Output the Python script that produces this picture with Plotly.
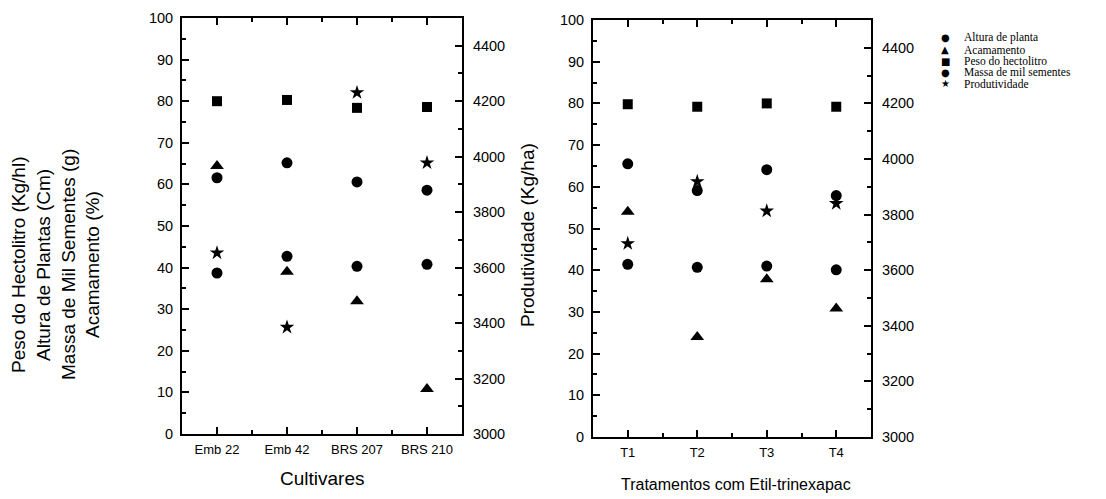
import plotly.graph_objects as go

# Categories of each panel
cultivares = ["Emb 22", "Emb 42", "BRS 207", "BRS 210"]
tratamentos = ["T1", "T2", "T3", "T4"]

# Left-axis variables (Peso do hectolitro, altura, massa de mil sementes, acamamento)
cult_altura = [61.6, 65.2, 60.6, 58.6]
cult_acamamento = [64.4, 39.0, 31.9, 10.8]
cult_peso_hl = [80.0, 80.3, 78.4, 78.6]
cult_massa = [38.7, 42.7, 40.3, 40.8]
# Right-axis variable (kg/ha)
cult_produtividade = [3653, 3385, 4231, 3978]

trat_altura = [65.5, 59.1, 64.1, 57.9]
trat_acamamento = [54.0, 24.0, 37.8, 30.8]
trat_peso_hl = [79.8, 79.2, 80.0, 79.2]
trat_massa = [41.4, 40.7, 41.0, 40.1]
trat_produtividade = [3696, 3919, 3813, 3840]

legend_labels = ["Altura de planta", "Acamamento", "Peso do hectolitro",
                 "Massa de mil sementes", "Produtividade"]
legend_glyphs = ["\u25CF", "\u25B2", "\u25A0", "\u25CF", "\u2605"]

W, H = 1106, 499
FONT = "Liberation Sans, Arial, sans-serif"


def px_x(p):
    return p / W


def px_y(p):
    return 1 - p / H


series = [
    ("circle", 11, cult_altura, trat_altura, False),
    ("triangle-up", 12, cult_acamamento, trat_acamamento, False),
    ("square", 10, cult_peso_hl, trat_peso_hl, False),
    ("circle", 11, cult_massa, trat_massa, False),
    ("star", 11, cult_produtividade, trat_produtividade, True),
]

fig = go.Figure()
for (symbol, size, left_vals, right_vals, on_kg), name in zip(series, legend_labels):
    marker = dict(symbol=symbol, size=size, color="black", line=dict(width=0))
    fig.add_trace(go.Scatter(
        x=list(range(len(cultivares))), y=left_vals, mode="markers", name=name,
        marker=marker, xaxis="x", yaxis="y2" if on_kg else "y",
    ))
    fig.add_trace(go.Scatter(
        x=list(range(len(tratamentos))), y=right_vals, mode="markers", name=name,
        marker=marker, xaxis="x2", yaxis="y4" if on_kg else "y3",
    ))

axis_common = dict(
    showline=True, linecolor="black", linewidth=2,
    ticks="inside", ticklen=7, tickwidth=2, tickcolor="black",
    showgrid=False, zeroline=False, automargin=False,
    tickfont=dict(family=FONT, size=14.5, color="black"),
)


def cat_axis(labels, domain, anchor):
    n = len(labels)
    return dict(
        axis_common, domain=domain, anchor=anchor, range=[-0.5, n - 0.5],
        tickmode="array", tickvals=list(range(n)), ticktext=labels,
        mirror="ticks", tickfont=dict(family=FONT, size=13, color="black"),
        ticklabelstandoff=2,
        minor=dict(tickmode="array", tickvals=[i + 0.5 for i in range(n - 1)],
                   ticks="inside", ticklen=4, tickwidth=2, tickcolor="black"),
    )


def pct_axis(domain, anchor):
    return dict(
        axis_common, domain=domain, anchor=anchor, range=[0, 100],
        tickmode="linear", tick0=0, dtick=10, ticklabelstandoff=4,
        minor=dict(dtick=5, ticks="inside", ticklen=4, tickwidth=2, tickcolor="black"),
    )


def kg_axis(overlay, anchor):
    return dict(
        axis_common, overlaying=overlay, anchor=anchor, side="right",
        range=[3000, 4500], tickmode="array",
        tickvals=[3000, 3200, 3400, 3600, 3800, 4000, 4200, 4400],
        ticklabelstandoff=6,
        minor=dict(dtick=100, ticks="inside", ticklen=4, tickwidth=2, tickcolor="black"),
    )


fig.update_layout(
    width=W, height=H,
    margin=dict(l=0, r=0, t=0, b=0, autoexpand=False),
    paper_bgcolor="white", plot_bgcolor="white",
    xaxis=cat_axis(cultivares, [px_x(182), px_x(462)], "y"),
    yaxis=pct_axis([px_y(434), px_y(18)], "x"),
    yaxis2=kg_axis("y", "x"),
    xaxis2=cat_axis(tratamentos, [px_x(593), px_x(871)], "y3"),
    yaxis3=pct_axis([px_y(437), px_y(20)], "x2"),
    yaxis4=kg_axis("y3", "x2"),
    showlegend=False,
)

# Key in the upper right: glyph + label per variable
for i, (glyph, label) in enumerate(zip(legend_glyphs, legend_labels)):
    yp = 38 + i * 11.5
    fig.add_annotation(
        text=glyph, x=px_x(945), y=px_y(yp), xref="paper", yref="paper",
        showarrow=False, xanchor="center", yanchor="middle",
        font=dict(family="DejaVu Sans", size=10, color="black"),
    )
    fig.add_annotation(
        text=label, x=px_x(962), y=px_y(yp), xref="paper", yref="paper",
        showarrow=False, xanchor="left", yanchor="middle",
        font=dict(family="Liberation Serif, Times New Roman, serif", size=11.5, color="black"),
    )

left_title = [
    ("Peso do Hectolitro (Kg/hl)", 18),
    ("Altura de Plantas (Cm)", 43),
    ("Massa de Mil Sementes (g)", 68),
    ("Acamamento (%)", 92),
]
for text, xp in left_title:
    fig.add_annotation(
        text=text, x=px_x(xp), y=px_y(265), xref="paper", yref="paper",
        textangle=-90, showarrow=False, xanchor="center", yanchor="middle",
        font=dict(family=FONT, size=19, color="black"),
    )

fig.add_annotation(
    text="Produtividade (Kg/ha)", x=px_x(527), y=px_y(235), xref="paper", yref="paper",
    textangle=-90, showarrow=False, xanchor="center", yanchor="middle",
    font=dict(family=FONT, size=19, color="black"),
)
fig.add_annotation(
    text="Cultivares", x=px_x(322), y=px_y(478), xref="paper", yref="paper",
    showarrow=False, xanchor="center", yanchor="middle",
    font=dict(family=FONT, size=19, color="black"),
)
fig.add_annotation(
    text="Tratamentos com Etil-trinexapac", x=px_x(736), y=px_y(484), xref="paper", yref="paper",
    showarrow=False, xanchor="center", yanchor="middle",
    font=dict(family=FONT, size=16, color="black"),
)

fig.write_html("out.html")
